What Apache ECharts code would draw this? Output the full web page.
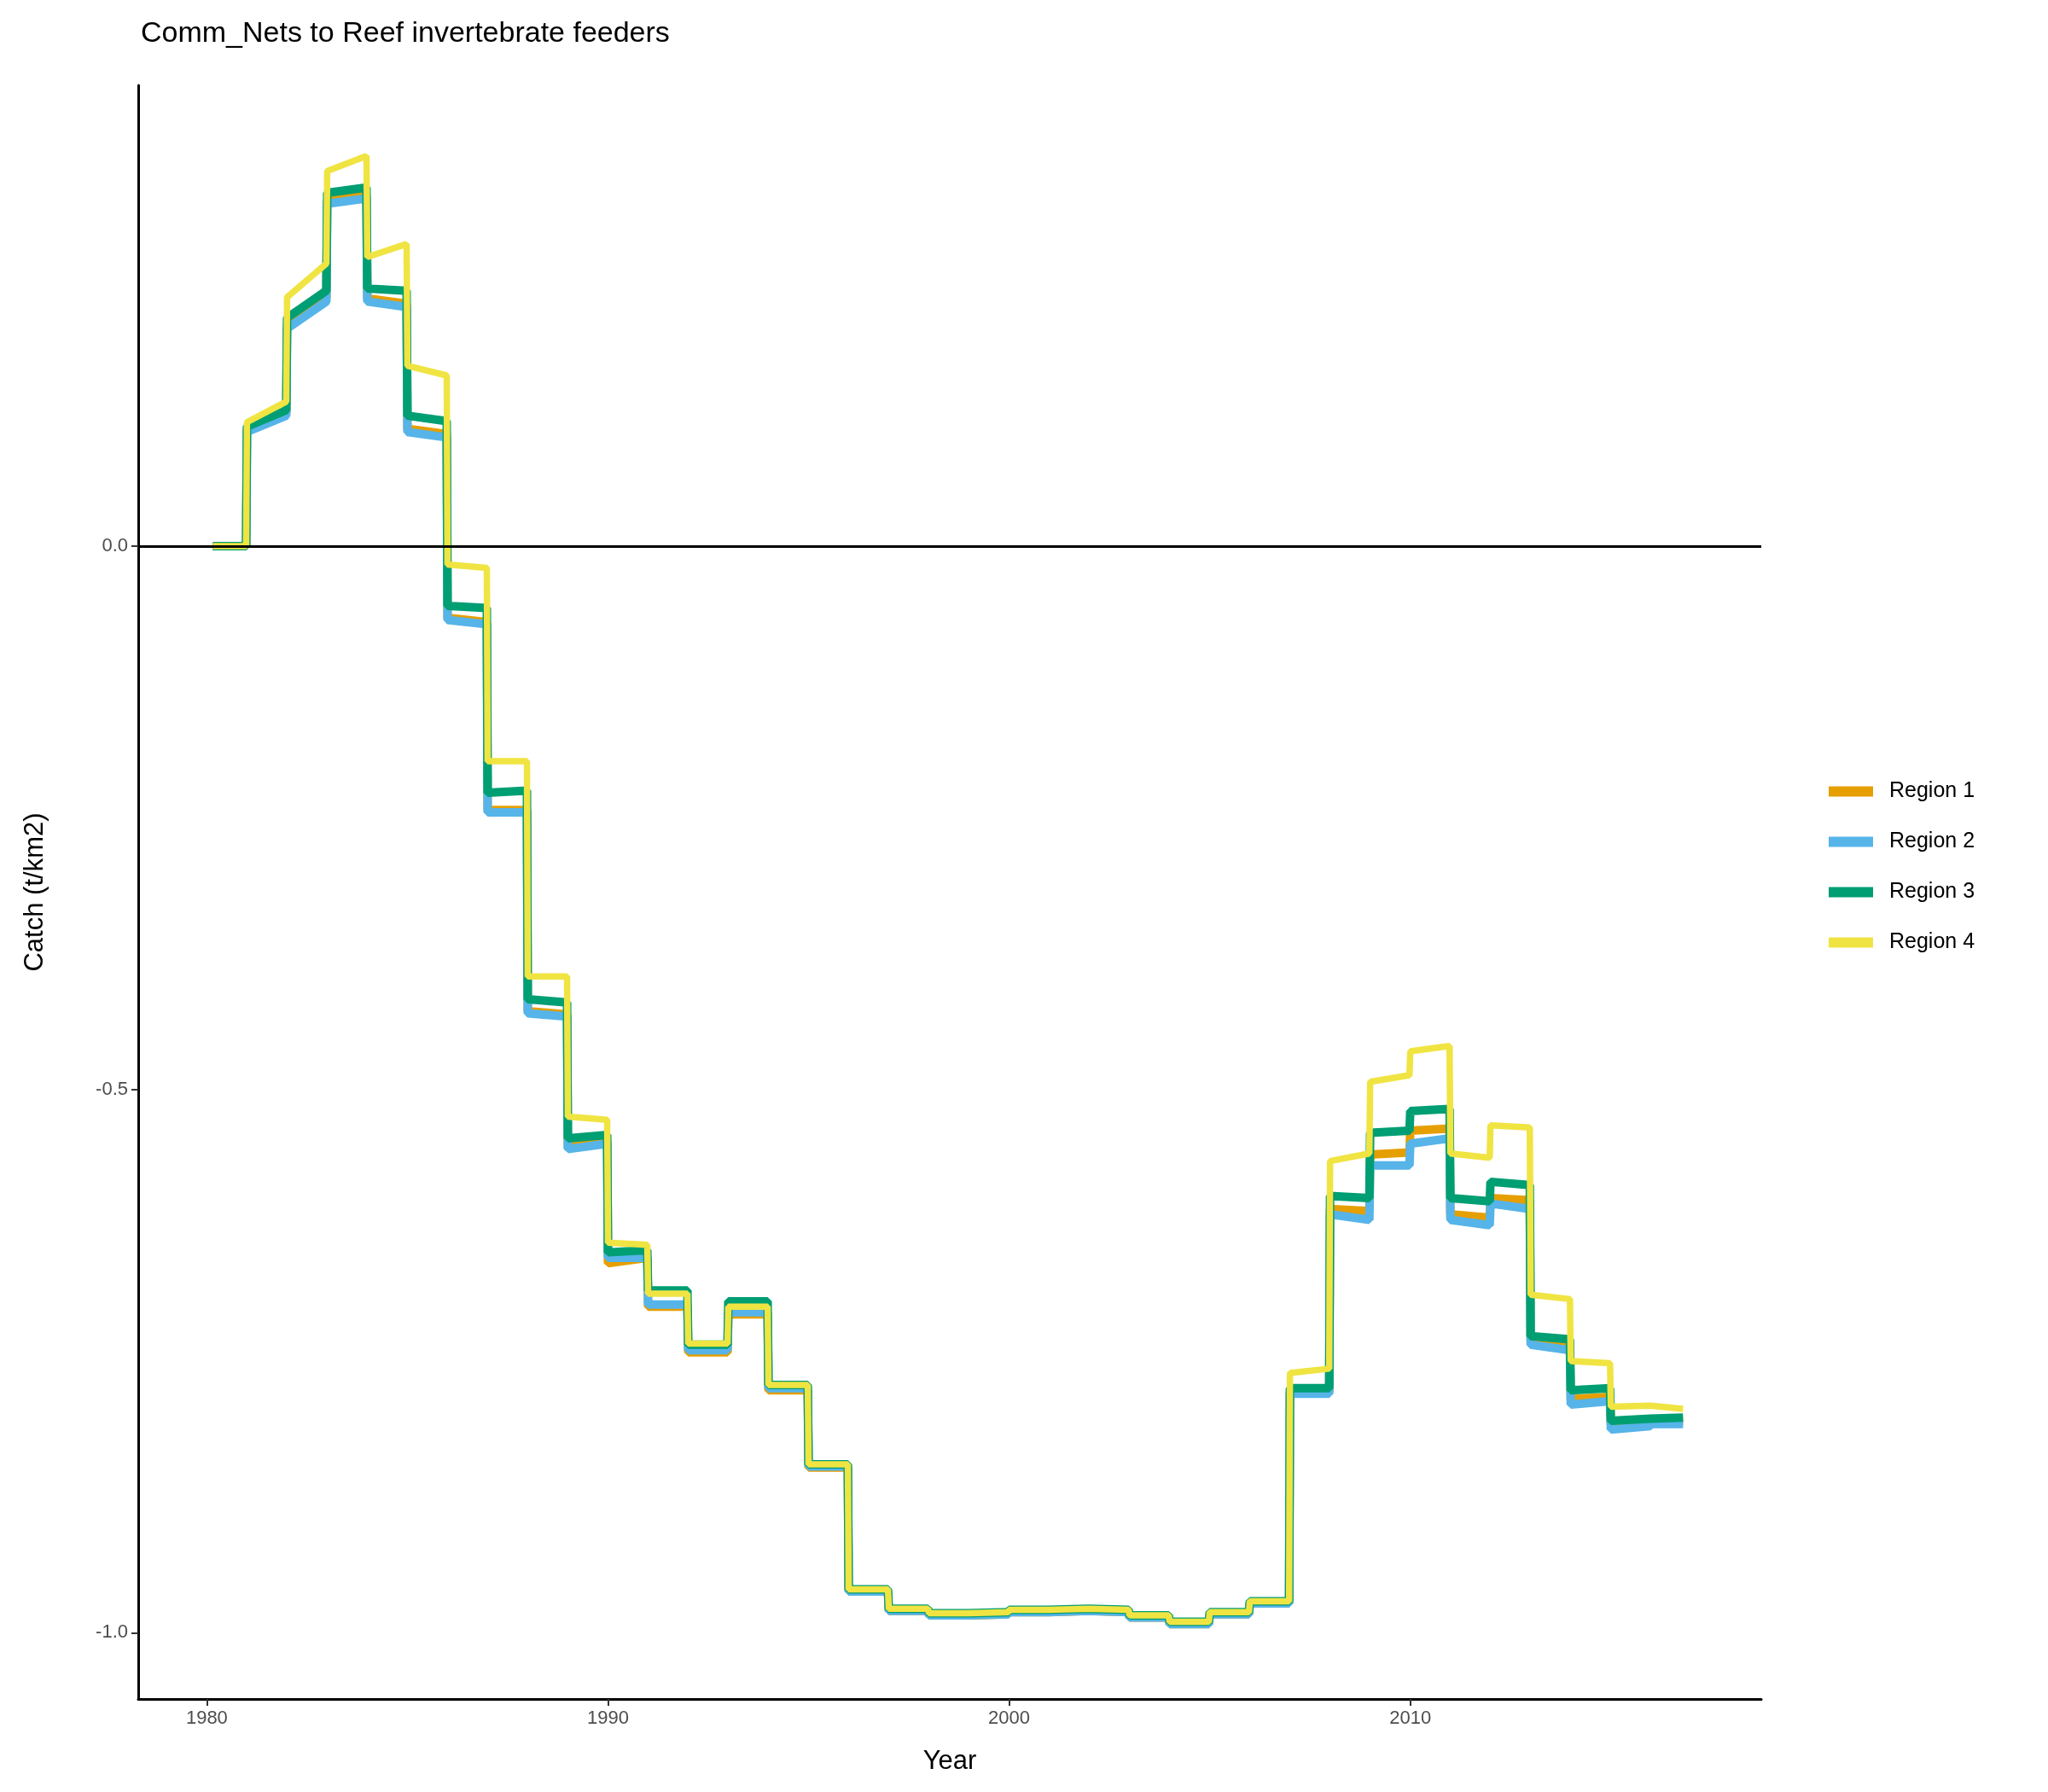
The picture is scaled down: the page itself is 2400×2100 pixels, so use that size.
<!DOCTYPE html>
<html>
<head>
<meta charset="utf-8">
<script src="https://cdn.jsdelivr.net/npm/echarts@6/dist/echarts.min.js"></script>
<style>html,body{margin:0;background:#fff}#chart{width:2400px;height:2100px}</style>
</head>
<body>
<div id="chart"></div>
<script>
var years = [1980,1981,1982,1983,1984,1985,1986,1987,1988,1989,1990,1991,1992,1993,1994,1995,1996,1997,1998,1999,2000,2001,2002,2003,2004,2005,2006,2007,2008,2009,2010,2011,2012,2013,2014,2015,2016];
// value at start / end of each year
var r4Start = [0,0.114,0.229,0.345,0.266,0.166,-0.017,-0.198,-0.396,-0.525,-0.641,-0.688,-0.734,-0.700,-0.772,-0.845,-0.960,-0.978,-0.982,-0.981,-0.979,-0.978,-0.979,-0.984,-0.990,-0.981,-0.971,-0.761,-0.566,-0.493,-0.465,-0.559,-0.533,-0.689,-0.750,-0.792,-0.790];
var r4End   = [0,0.133,0.260,0.359,0.278,0.157,-0.020,-0.198,-0.396,-0.528,-0.643,-0.688,-0.734,-0.700,-0.772,-0.845,-0.960,-0.978,-0.982,-0.981,-0.979,-0.978,-0.979,-0.984,-0.990,-0.981,-0.971,-0.757,-0.559,-0.487,-0.460,-0.563,-0.535,-0.693,-0.752,-0.791,-0.794];
var r3Start = [0,0.110,0.210,0.325,0.237,0.120,-0.055,-0.227,-0.417,-0.545,-0.650,-0.685,-0.735,-0.695,-0.772,-0.845,-0.960,-0.978,-0.982,-0.981,-0.979,-0.978,-0.979,-0.984,-0.990,-0.981,-0.971,-0.775,-0.598,-0.540,-0.520,-0.600,-0.585,-0.727,-0.777,-0.805,-0.802];
var r3End   = [0,0.125,0.235,0.330,0.235,0.115,-0.057,-0.225,-0.420,-0.542,-0.648,-0.685,-0.735,-0.695,-0.772,-0.845,-0.960,-0.978,-0.982,-0.981,-0.979,-0.978,-0.979,-0.984,-0.990,-0.981,-0.971,-0.775,-0.600,-0.538,-0.518,-0.603,-0.588,-0.730,-0.775,-0.803,-0.802];
var r2Start = [0,0.105,0.200,0.315,0.225,0.105,-0.068,-0.245,-0.430,-0.555,-0.655,-0.698,-0.740,-0.705,-0.775,-0.847,-0.962,-0.980,-0.984,-0.983,-0.981,-0.980,-0.981,-0.986,-0.992,-0.983,-0.973,-0.780,-0.615,-0.570,-0.550,-0.620,-0.605,-0.735,-0.790,-0.813,-0.808];
var r2End   = [0,0.120,0.225,0.320,0.220,0.100,-0.072,-0.245,-0.433,-0.550,-0.655,-0.698,-0.740,-0.705,-0.775,-0.847,-0.962,-0.980,-0.984,-0.983,-0.981,-0.980,-0.981,-0.986,-0.992,-0.983,-0.973,-0.780,-0.620,-0.570,-0.545,-0.625,-0.610,-0.740,-0.787,-0.810,-0.808];
var r1Start = [0,0.107,0.203,0.318,0.228,0.108,-0.066,-0.243,-0.428,-0.553,-0.660,-0.700,-0.742,-0.707,-0.777,-0.848,-0.962,-0.980,-0.984,-0.983,-0.981,-0.980,-0.981,-0.986,-0.992,-0.983,-0.973,-0.778,-0.610,-0.560,-0.538,-0.615,-0.600,-0.730,-0.785,-0.808,-0.805];
var r1End   = [0,0.122,0.228,0.323,0.223,0.103,-0.070,-0.243,-0.431,-0.548,-0.655,-0.700,-0.742,-0.707,-0.777,-0.848,-0.962,-0.980,-0.984,-0.983,-0.981,-0.980,-0.981,-0.986,-0.992,-0.983,-0.973,-0.778,-0.612,-0.558,-0.536,-0.618,-0.602,-0.733,-0.783,-0.806,-0.805];

function build(st, en) {
    var d = [];
    years.forEach(function (y, i) {
        d.push([i === 0 ? y + 0.15 : y, st[i]]);
        d.push([i === years.length - 1 ? y + 0.8 : y + 0.98, en[i]]);
    });
    return d;
}

var regions = [
    {name: 'Region 1', color: '#E69F00', w: 10, data: build(r1Start, r1End)},
    {name: 'Region 2', color: '#56B4E9', w: 10, data: build(r2Start, r2End)},
    {name: 'Region 3', color: '#009E73', w: 10, data: build(r3Start, r3End)},
    {name: 'Region 4', color: '#F0E442', w: 7.5, data: build(r4Start, r4End)}
];

var chart = echarts.init(document.getElementById('chart'));
var series = regions.map(function (r) {
    return {
        name: r.name, type: 'line', data: r.data, showSymbol: false,
        lineStyle: {width: r.w, color: r.color}, itemStyle: {color: r.color},
        animation: false
    };
});
series[0].markLine = {
    symbol: 'none', silent: true, label: {show: false},
    lineStyle: {color: '#000', width: 3, type: 'solid'},
    data: [{yAxis: 0}]
};

chart.setOption({
    backgroundColor: '#fff',
    title: {
        text: 'Comm_Nets to Reef invertebrate feeders', left: 160, top: 18,
        textStyle: {fontFamily: 'Arial, Liberation Sans', fontSize: 34, fontWeight: 'normal', color: '#000'}
    },
    legend: {
        orient: 'vertical', left: 2138, top: 910, itemGap: 34,
        itemWidth: 52, itemHeight: 12,
        icon: 'rect',
        textStyle: {fontFamily: 'Arial, Liberation Sans', fontSize: 25, color: '#000', padding: [0, 0, 0, 14]},
        data: regions.map(function (r) { return r.name; })
    },
    grid: {left: 162, right: 336, top: 100, bottom: 109},
    xAxis: {
        type: 'value', min: 1978.29, max: 2018.75,
        name: 'Year', nameLocation: 'middle', nameGap: 58,
        nameTextStyle: {fontFamily: 'Arial, Liberation Sans', fontSize: 31, color: '#000'},
        axisLine: {show: true, onZero: false, lineStyle: {color: '#000', width: 3}},
        axisTick: {show: true, customValues: [1980, 1990, 2000, 2010], length: 8, lineStyle: {color: '#333', width: 2}},
        axisLabel: {customValues: [1980, 1990, 2000, 2010], fontFamily: 'Arial, Liberation Sans', fontSize: 22, color: '#4d4d4d', margin: 12,
            formatter: function (v) { return String(Math.round(v)); }},
        splitLine: {show: false}
    },
    yAxis: {
        type: 'value', min: -1.061, max: 0.424,
        name: 'Catch (t/km2)', nameLocation: 'middle', nameGap: 105,
        nameTextStyle: {fontFamily: 'Arial, Liberation Sans', fontSize: 31, color: '#000'},
        axisLine: {show: true, onZero: false, lineStyle: {color: '#000', width: 3}},
        axisTick: {show: true, customValues: [-1, -0.5, 0], length: 8, lineStyle: {color: '#333', width: 2}},
        axisLabel: {customValues: [-1, -0.5, 0], fontFamily: 'Arial, Liberation Sans', fontSize: 22, color: '#4d4d4d', margin: 12,
            formatter: function (v) { return v.toFixed(1); }},
        splitLine: {show: false}
    },
    series: series
});
</script>
</body>
</html>
